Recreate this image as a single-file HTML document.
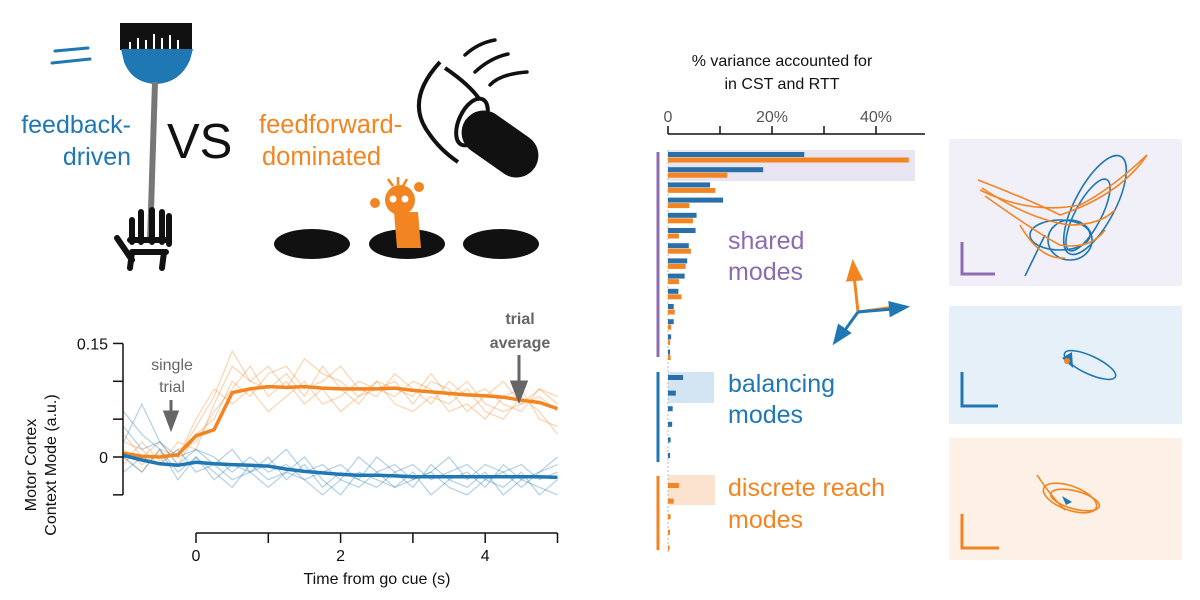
<!DOCTYPE html>
<html><head><meta charset="utf-8"><style>
body{margin:0;background:#fff;width:1200px;height:600px;overflow:hidden;font-family:"Liberation Sans",sans-serif}
svg{display:block}
text{font-family:"Liberation Sans",sans-serif}
</style></head><body>
<svg id="fig" width="1200" height="600" viewBox="0 0 1200 600">
<!-- Illustrations -->
<g>
  <line x1="55" y1="51" x2="88" y2="48" stroke="#1f77b4" stroke-width="3" stroke-linecap="round"/>
  <line x1="52" y1="63" x2="90" y2="59" stroke="#1f77b4" stroke-width="3" stroke-linecap="round"/>
  <rect x="120" y="23" width="72" height="27" fill="#111"/>
  <g stroke="#fff" stroke-width="2"><line x1="130" y1="42" x2="130" y2="50"/><line x1="138" y1="38" x2="138" y2="50"/><line x1="146" y1="40" x2="146" y2="50"/><line x1="154" y1="34" x2="154" y2="50"/><line x1="162" y1="38" x2="162" y2="50"/><line x1="170" y1="35" x2="170" y2="50"/><line x1="178" y1="40" x2="178" y2="50"/></g>
  <path d="M121 49 L193 49 L190 60 Q180 83 156 84 Q132 83 124 62 Z" fill="#1f77b4"/>
  <line x1="155" y1="82" x2="150" y2="242" stroke="#777" stroke-width="6"/>
  <path d="M132 220 L132 242 M141 212 L141 242 M152 210 L152 242 M162 212 L162 242 M169 216 L169 244 M117 238 L132 260 M132 252 L166 252 M130 240 L166 240 M132 252 L130 268 M164 252 L162 268" stroke="#111" stroke-width="6" fill="none" stroke-linecap="round"/>
</g>
<text x="131" y="133" text-anchor="end" font-size="25" fill="#1f77b4">feedback-</text>
<text x="131" y="165" text-anchor="end" font-size="25" fill="#1f77b4">driven</text>
<text x="167" y="158" font-size="49" fill="#111">VS</text>
<text x="259" y="133" font-size="25.5" fill="#f28522">feedforward-</text>
<text x="262" y="165" font-size="25.5" fill="#f28522">dominated</text>
<g>
  <path d="M440 62 Q405 100 428 132 Q440 150 458 162" stroke="#111" stroke-width="4" fill="none"/>
  <path d="M445 68 Q470 85 480 100" stroke="#111" stroke-width="4" fill="none"/>
  <ellipse cx="472" cy="122" rx="13" ry="25" transform="rotate(25 472 122)" stroke="#111" stroke-width="4" fill="none"/>
  <path d="M465 55 Q478 43 495 40 M475 72 Q490 58 508 54 M490 85 Q500 74 527 72" stroke="#111" stroke-width="3.5" fill="none" stroke-linecap="round"/>
  <rect x="458" y="122" width="84" height="44" rx="22" fill="#111" transform="rotate(35 500 144)"/>
</g>
<g>
  <ellipse cx="312" cy="244" rx="38" ry="15" fill="#111"/>
  <ellipse cx="407" cy="244" rx="38" ry="15" fill="#111"/>
  <ellipse cx="501" cy="244" rx="38" ry="15" fill="#111"/>
  <path d="M394 212 L418 212 L421 248 L397 248 Z" fill="#f28522"/>
  <circle cx="400" cy="200" r="15" fill="#f28522"/>
  <circle cx="393" cy="199" r="3.5" fill="#fff"/><circle cx="405" cy="199" r="3.5" fill="#fff"/>
  <circle cx="375" cy="203" r="5" fill="#f28522"/><circle cx="419" cy="187" r="5" fill="#f28522"/>
  <path d="M393 186 L388 179 M398 185 L398 177 M403 186 L407 179" stroke="#f28522" stroke-width="2.5"/>
</g>

<!-- Line chart -->
<g id="linechart"></g>
<text transform="translate(36 465) rotate(-90)" text-anchor="middle" font-size="16" fill="#111">Motor Cortex</text>
<text transform="translate(56 465) rotate(-90)" text-anchor="middle" font-size="16" fill="#111">Context Mode (a.u.)</text>
<text x="377" y="584" text-anchor="middle" font-size="16" fill="#111">Time from go cue (s)</text>
<text x="172" y="370" text-anchor="middle" font-size="16" fill="#666">single</text>
<text x="172" y="392" text-anchor="middle" font-size="16" fill="#666">trial</text>
<path d="M171 400 L171 415 M165 412 L171 428 L177 412 Z" stroke="#666" stroke-width="3" fill="#666"/>
<text x="520" y="324" text-anchor="middle" font-size="16" font-weight="bold" fill="#666">trial</text>
<text x="520" y="348" text-anchor="middle" font-size="16" font-weight="bold" fill="#666">average</text>
<path d="M519 355 L519 385 M512 382 L519 400 L526 382 Z" stroke="#666" stroke-width="3" fill="#666"/>

<!-- Bar chart -->
<text x="782" y="66" text-anchor="middle" font-size="16" fill="#111">% variance accounted for</text>
<text x="782" y="89" text-anchor="middle" font-size="16" fill="#111">in CST and RTT</text>
<g id="barchart"></g>
<text x="728" y="249" font-size="25" fill="#8c6bb1">shared</text>
<text x="728" y="280" font-size="25" fill="#8c6bb1">modes</text>
<text x="728" y="392" font-size="25" fill="#1f77b4">balancing</text>
<text x="728" y="423" font-size="25" fill="#1f77b4">modes</text>
<text x="728" y="496" font-size="25" fill="#f28522">discrete reach</text>
<text x="728" y="528" font-size="25" fill="#f28522">modes</text>
<g stroke-width="3" fill="none">
  <path d="M858 312 L854 275" stroke="#f28522"/><path d="M848 280 L853 263 L861 279 Z" fill="#f28522" stroke="#f28522"/>
  <path d="M858 312 L895 307" stroke="#f28522"/>
  <path d="M858 312 L893 309" stroke="#1f77b4"/><path d="M890 303 L906 307 L891 315 Z" fill="#1f77b4" stroke="#1f77b4"/>
  <path d="M858 312 L845 330" stroke="#1f77b4"/><path d="M839 326 L835 342 L849 333 Z" fill="#1f77b4" stroke="#1f77b4"/>
</g>

<!-- Trajectory panels -->
<g>
  <rect x="949" y="139" width="233" height="147" fill="#f1eff7"/>
  <path d="M962 242 L962 274 L995 274" stroke="#8c6bb1" stroke-width="3" fill="none"/>
  <g fill="none" stroke="#1f77b4" stroke-width="1.6">
    <ellipse cx="1095" cy="205" rx="20" ry="55" transform="rotate(28 1095 205)"/>
    <ellipse cx="1088" cy="215" rx="13" ry="40" transform="rotate(28 1088 215)"/>
    <ellipse cx="1060" cy="235" rx="30" ry="15"/>
    <ellipse cx="1070" cy="240" rx="22" ry="20"/>
    <path d="M1025 276 L1045 235"/>
  </g>
  <g fill="none" stroke="#f28522" stroke-width="1.6">
    <path d="M978 180 Q1030 200 1060 215 Q1120 195 1147 155 Q1110 190 1080 205 Q1030 215 980 190"/>
    <path d="M982 188 Q1030 220 1070 225 Q1100 225 1115 210"/>
    <path d="M985 196 Q1040 235 1060 245 Q1090 250 1105 230"/>
    <path d="M1020 225 Q1040 260 1065 258"/>
  </g>
</g>
<g>
  <rect x="949" y="306" width="233" height="118" fill="#e6f0f8"/>
  <path d="M962 372 L962 406 L998 406" stroke="#1f77b4" stroke-width="3" fill="none"/>
  <ellipse cx="1090" cy="365" rx="28" ry="9" transform="rotate(25 1090 365)" fill="none" stroke="#1f77b4" stroke-width="1.6"/>
  <path d="M1062 358 L1072 352 L1073 368 Z" fill="#1f77b4"/>
  <circle cx="1067" cy="361" r="3" fill="#f28522"/>
</g>
<g>
  <rect x="949" y="438" width="233" height="122" fill="#fdf0e6"/>
  <path d="M962 514 L962 548 L999 548" stroke="#f28522" stroke-width="3" fill="none"/>
  <g fill="none" stroke="#f28522" stroke-width="1.6">
    <ellipse cx="1075" cy="500" rx="25" ry="9" transform="rotate(15 1075 500)"/>
    <ellipse cx="1070" cy="498" rx="28" ry="12" transform="rotate(20 1070 498)"/>
    <path d="M1037 475 Q1050 495 1065 510"/>
  </g>
  <path d="M1062 496 L1072 502 L1066 505 Z" fill="#1f77b4"/>
</g>
</svg>
<script>
// ---- line chart data ----
const times = [-1,-0.75,-0.5,-0.25,0,0.25,0.5,0.75,1,1.25,1.5,1.75,2,2.25,2.5,2.75,3,3.25,3.5,3.75,4,4.25,4.5,4.75,5];
const orangeMean = [0.005,0.001,0.0,0.003,0.028,0.036,0.085,0.09,0.093,0.092,0.093,0.091,0.09,0.09,0.09,0.091,0.088,0.086,0.084,0.082,0.081,0.079,0.075,0.072,0.064];
const blueMean = [0.002,-0.004,-0.009,-0.011,-0.007,-0.009,-0.01,-0.011,-0.012,-0.016,-0.019,-0.021,-0.023,-0.024,-0.024,-0.025,-0.026,-0.026,-0.026,-0.026,-0.026,-0.026,-0.026,-0.026,-0.027];
const orangeTrial1 = [0.01,-0.01,0.005,0.0,0.04,0.08,0.14,0.1,0.12,0.09,0.13,0.11,0.1,0.08,0.09,0.1,0.07,0.1,0.09,0.06,0.08,0.1,0.07,0.09,0.08];
const orangeTrial2 = [-0.01,0.02,-0.005,0.01,0.02,0.06,0.09,0.12,0.08,0.1,0.07,0.09,0.06,0.08,0.1,0.07,0.06,0.08,0.07,0.09,0.06,0.05,0.08,0.06,0.03];
const orangeTrial3 = [0.03,0.0,0.02,-0.01,0.03,0.05,0.1,0.08,0.11,0.12,0.09,0.1,0.12,0.09,0.08,0.11,0.09,0.07,0.1,0.08,0.09,0.07,0.06,0.09,0.07];
const orangeTrial4 = [0.0,-0.02,0.01,0.0,0.05,0.09,0.07,0.09,0.06,0.08,0.1,0.07,0.08,0.1,0.09,0.08,0.1,0.09,0.06,0.07,0.05,0.08,0.09,0.05,0.04];
const orangeTrial5 = [0.02,0.01,-0.01,0.02,0.01,0.07,0.12,0.1,0.09,0.11,0.08,0.12,0.09,0.07,0.1,0.09,0.08,0.11,0.08,0.1,0.07,0.06,0.07,0.08,0.06];
const blueTrial1 = [0.06,0.03,0.01,-0.02,0.0,-0.03,-0.01,-0.02,0.0,-0.03,-0.01,-0.04,-0.02,-0.03,0.0,-0.02,-0.04,-0.01,-0.03,-0.02,-0.04,-0.01,-0.03,-0.02,0.0];
const blueTrial2 = [0.0,-0.02,0.01,-0.03,0.0,-0.02,-0.04,-0.01,-0.03,-0.02,0.0,-0.03,-0.05,-0.02,-0.03,-0.04,-0.02,-0.05,-0.03,-0.04,-0.02,-0.05,-0.03,-0.04,-0.05];
const blueTrial3 = [0.02,0.07,0.02,0.0,0.01,-0.01,0.01,-0.02,-0.01,0.01,-0.02,-0.01,-0.03,0.0,-0.02,-0.01,-0.03,-0.02,0.0,-0.03,-0.01,-0.02,-0.04,-0.02,-0.01];
const blueTrial4 = [-0.02,0.0,-0.01,0.01,-0.02,-0.01,-0.03,-0.02,-0.04,-0.02,-0.03,-0.05,-0.03,-0.04,-0.02,-0.04,-0.03,-0.02,-0.04,-0.05,-0.03,-0.04,-0.02,-0.05,-0.03];
const blueTrial5 = [0.04,0.01,0.02,-0.01,0.01,0.0,-0.02,0.0,-0.02,-0.01,-0.03,-0.02,-0.01,-0.03,-0.04,-0.02,-0.01,-0.03,-0.02,-0.01,-0.03,-0.02,-0.01,-0.03,-0.02];
const yTickValues = [0.15,0.1,0.05,0,-0.05];
const yTickLabels = ["0.15","","","0",""];
const xTickValues = [0,1,2,3,4,5];
const xTickLabels = ["0","","2","","4",""];

// ---- bar chart data ----
const sharedBlue = [26.2,18.3,8.1,10.6,5.5,5.3,4,3.7,3.2,2,1.1,1.1,0.6,0.4];
const sharedOrange = [46.3,11.4,9.1,4.1,4.8,2.1,4.4,3.4,2.1,2.6,1.3,0.6,0.4,0.5];
const balancingBlue = [2.9,1.5,0.9,0.8,0.5,0.4];
const discreteOrange = [2.1,1.1,0.5,0.4,0.3];
const barTickValues = [0,10,20,30,40];
const barTickLabels = ["0","","20%","","40%"];

const NS="http://www.w3.org/2000/svg";
function mk(parent,tag,attrs){const e=document.createElementNS(NS,tag);for(const k in attrs)e.setAttribute(k,attrs[k]);parent.appendChild(e);return e;}

// line chart
const lc=document.getElementById('linechart');
const X=t=>196+t*72.3;
const Y=v=>457-v*757;
function path(arr){return arr.map((v,i)=>(i?'L':'M')+X(times[i]).toFixed(1)+' '+Y(v).toFixed(1)).join(' ');}
const orangeTrials=[orangeTrial1,orangeTrial2,orangeTrial3,orangeTrial4,orangeTrial5];
const blueTrials=[blueTrial1,blueTrial2,blueTrial3,blueTrial4,blueTrial5];
orangeTrials.forEach(a=>{const p=mk(lc,'path',{d:path(a),stroke:'#f28522','stroke-opacity':0.35,fill:'none','stroke-width':1.2});

});
blueTrials.forEach(a=>{const p=mk(lc,'path',{d:path(a),stroke:'#1f77b4','stroke-opacity':0.35,fill:'none','stroke-width':1.2});

});
let pm=mk(lc,'path',{d:path(orangeMean),stroke:'#f28522',fill:'none','stroke-width':3.5});


pm=mk(lc,'path',{d:path(blueMean),stroke:'#1f77b4',fill:'none','stroke-width':3.5});


let ax=mk(lc,'line',{x1:123,x2:123,y1:Y(0.15),y2:Y(-0.05),stroke:'#111','stroke-width':1.5});


yTickValues.forEach((v,i)=>{mk(lc,'line',{x1:113,x2:123,y1:Y(v),y2:Y(v),stroke:'#111','stroke-width':1.5});
if(yTickLabels[i]){const t=mk(lc,'text',{x:108,y:Y(v)+6,'text-anchor':'end','font-size':16,fill:'#111'});t.textContent=yTickLabels[i];

}});
ax=mk(lc,'line',{x1:X(0),x2:X(5),y1:533,y2:533,stroke:'#111','stroke-width':1.5});


xTickValues.forEach((v,i)=>{mk(lc,'line',{x1:X(v),x2:X(v),y1:533,y2:543,stroke:'#111','stroke-width':1.5});
if(xTickLabels[i]){const t=mk(lc,'text',{x:X(v),y:561,'text-anchor':'middle','font-size':16,fill:'#111'});t.textContent=xTickLabels[i];

}});

// bar chart
const bc=document.getElementById('barchart');
const BX=v=>668+v*5.2;
mk(bc,'rect',{x:668,y:150,width:247,height:31,fill:'#e8e4f1'});
mk(bc,'rect',{x:668,y:372,width:46,height:31,fill:'#d3e4f2'});
mk(bc,'rect',{x:668,y:475,width:47,height:30,fill:'#fbe3cf'});
ax=mk(bc,'line',{x1:BX(0),x2:925,y1:134,y2:134,stroke:'#111','stroke-width':1.5});


barTickValues.forEach((v,i)=>{mk(bc,'line',{x1:BX(v),x2:BX(v),y1:126,y2:134,stroke:'#111','stroke-width':1.5});
if(barTickLabels[i]){const t=mk(bc,'text',{x:BX(v),y:122,'text-anchor':'middle','font-size':16,fill:'#555'});t.textContent=barTickLabels[i];

}});
mk(bc,'line',{x1:668,x2:668,y1:150,y2:552,stroke:'#bbb','stroke-width':1,'stroke-dasharray':'2 2'});
sharedBlue.forEach((v,i)=>{const y=152+i*15.2;
let r=mk(bc,'rect',{x:668,y:y,width:BX(v)-668,height:5,fill:'#2a6fa8'});


r=mk(bc,'rect',{x:668,y:y+5.5,width:BX(sharedOrange[i])-668,height:5,fill:'#f28522'});

});
balancingBlue.forEach((v,i)=>{const r=mk(bc,'rect',{x:668,y:375+i*15.6,width:BX(v)-668,height:5,fill:'#2a6fa8'});

});
discreteOrange.forEach((v,i)=>{const r=mk(bc,'rect',{x:668,y:483+i*15.6,width:BX(v)-668,height:5,fill:'#f28522'});

});
[[152,357,'#8c6bb1'],[372,462,'#1f77b4'],[476,550,'#f28522']].forEach(g=>{const l=mk(bc,'line',{x1:658,x2:658,y1:g[0],y2:g[1],stroke:g[2],'stroke-width':3});

});
</script>
</body></html>
